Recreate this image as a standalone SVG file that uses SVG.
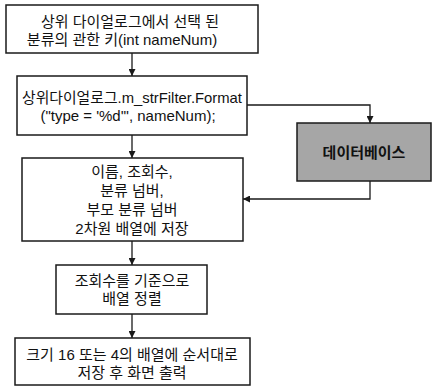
<svg xmlns="http://www.w3.org/2000/svg" width="438" height="389" viewBox="0 0 438 389">
<style>
.box{fill:#ffffff;stroke:#1a1a1a;stroke-width:1.5}
.db{fill:#a6a6a6;stroke:#1a1a1a;stroke-width:1.5}
.t{font-family:"Liberation Sans","Noto Sans CJK KR",sans-serif;font-size:15px;fill:#111;text-anchor:middle}
.tb{font-family:"Noto Sans CJK KR","Liberation Sans",sans-serif;font-size:15px;font-weight:bold;fill:#111;text-anchor:middle}
.c{fill:none;stroke:#1a1a1a;stroke-width:1.3}
</style>
<defs>
<marker id="ah" viewBox="0 0 10 10" refX="10" refY="5" markerWidth="7" markerHeight="7" orient="auto" markerUnits="userSpaceOnUse">
<path d="M0,0 L10,5 L0,10 z" fill="#1a1a1a"/>
</marker>
</defs>
<rect width="438" height="389" fill="#ffffff"/>
<g id="connectors">
<path class="c" d="M132,53 V76" marker-end="url(#ah)"/>
<path class="c" d="M132,135 V158" marker-end="url(#ah)"/>
<path class="c" d="M132,241 V265" marker-end="url(#ah)"/>
<path class="c" d="M132,314 V338" marker-end="url(#ah)"/>
<path class="c" d="M247,105 H370 V123" marker-end="url(#ah)"/>
<path class="c" d="M370,181 V199 H243" marker-end="url(#ah)"/>
</g>
<g id="n1">
<rect class="box" x="6" y="5" width="252" height="48"/>
<text class="t" x="130" y="27">상위 다이얼로그에서 선택 된</text>
<text class="t" x="122" y="45">분류의 관한 키(int nameNum)</text>
</g>
<g id="n2">
<rect class="box" x="17" y="76" width="230" height="59"/>
<text class="t" x="132" y="103" textLength="220" lengthAdjust="spacingAndGlyphs">상위다이얼로그.m_strFilter.Format</text>
<text class="t" x="128" y="121">("type = '%d'", nameNum);</text>
</g>
<g id="db">
<rect class="db" x="297" y="123" width="134" height="58"/>
<text class="tb" x="364" y="157.5">데이터베이스</text>
</g>
<g id="n3">
<rect class="box" x="22" y="158" width="221" height="83"/>
<text class="t" x="132" y="176.5">이름, 조회수,</text>
<text class="t" x="132" y="195.5">분류 넘버,</text>
<text class="t" x="132" y="214.5">부모 분류 넘버</text>
<text class="t" x="132" y="233.5">2차원 배열에 저장</text>
</g>
<g id="n4">
<rect class="box" x="56" y="265" width="151" height="49"/>
<text class="t" x="132" y="286">조회수를 기준으로</text>
<text class="t" x="132" y="304">배열 정렬</text>
</g>
<g id="n5">
<rect class="box" x="15" y="338" width="235" height="47"/>
<text class="t" x="132" y="360">크기 16 또는 4의 배열에 순서대로</text>
<text class="t" x="132" y="378">저장 후 화면 출력</text>
</g>
</svg>
